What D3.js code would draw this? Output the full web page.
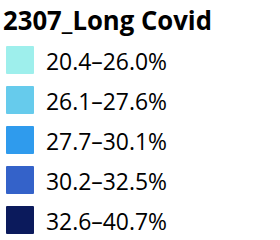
<!DOCTYPE html>
<html>
<head>
<meta charset="utf-8">
<script src="https://cdn.jsdelivr.net/npm/d3@7"></script>
<style>
  html, body { margin: 0; padding: 0; background: #fff; }
</style>
</head>
<body>
<div class="legend-box"></div>
<script>
// legend data
const title = "2307_Long Covid";
const bins = ["20.4–26.0%", "26.1–27.6%", "27.7–30.1%", "30.2–32.5%", "32.6–40.7%"];
const colors = ["#9eefec", "#66cbec", "#2f9bed", "#3462c9", "#0b1a5c"];

const svg = d3.select(".legend-box").append("svg")
    .attr("width", 280)
    .attr("height", 240);

//title
svg.append("text")
    .attr("x", 3)
    .attr("y", 30)
    .attr("font-family", "Open Sans, sans-serif")
    .attr("font-weight", "bold")
    .attr("font-size", "27px")
    .attr("textLength", 209)
    .attr("lengthAdjust", "spacingAndGlyphs")
    .attr("fill", "#000")
    .text(title);

//rows: step 40, swatch 28
const yScale = d3.scaleBand()
    .domain(bins)
    .range([46, 234])
    .paddingInner(0.3)
    .paddingOuter(0)
    .align(0);

const row = svg.selectAll(".row")
    .data(bins)
    .enter().append("g")
    .attr("class", "row")
    .attr("transform", (d) => { return "translate(0," + yScale(d) + ")"; });

row.append("rect")
    .attr("x", 6)
    .attr("width", 28)
    .attr("height", yScale.bandwidth())
    .attr("rx", 1)
    .attr("fill", (d, i) => { return colors[i]; });

row.append("text")
    .attr("x", 46)
    .attr("y", 24)
    .attr("font-family", "Open Sans, sans-serif")
    .attr("font-size", "23px")
    .attr("textLength", 121)
    .attr("lengthAdjust", "spacingAndGlyphs")
    .attr("fill", "#000")
    .text((d) => { return d; });
</script>
</body>
</html>
